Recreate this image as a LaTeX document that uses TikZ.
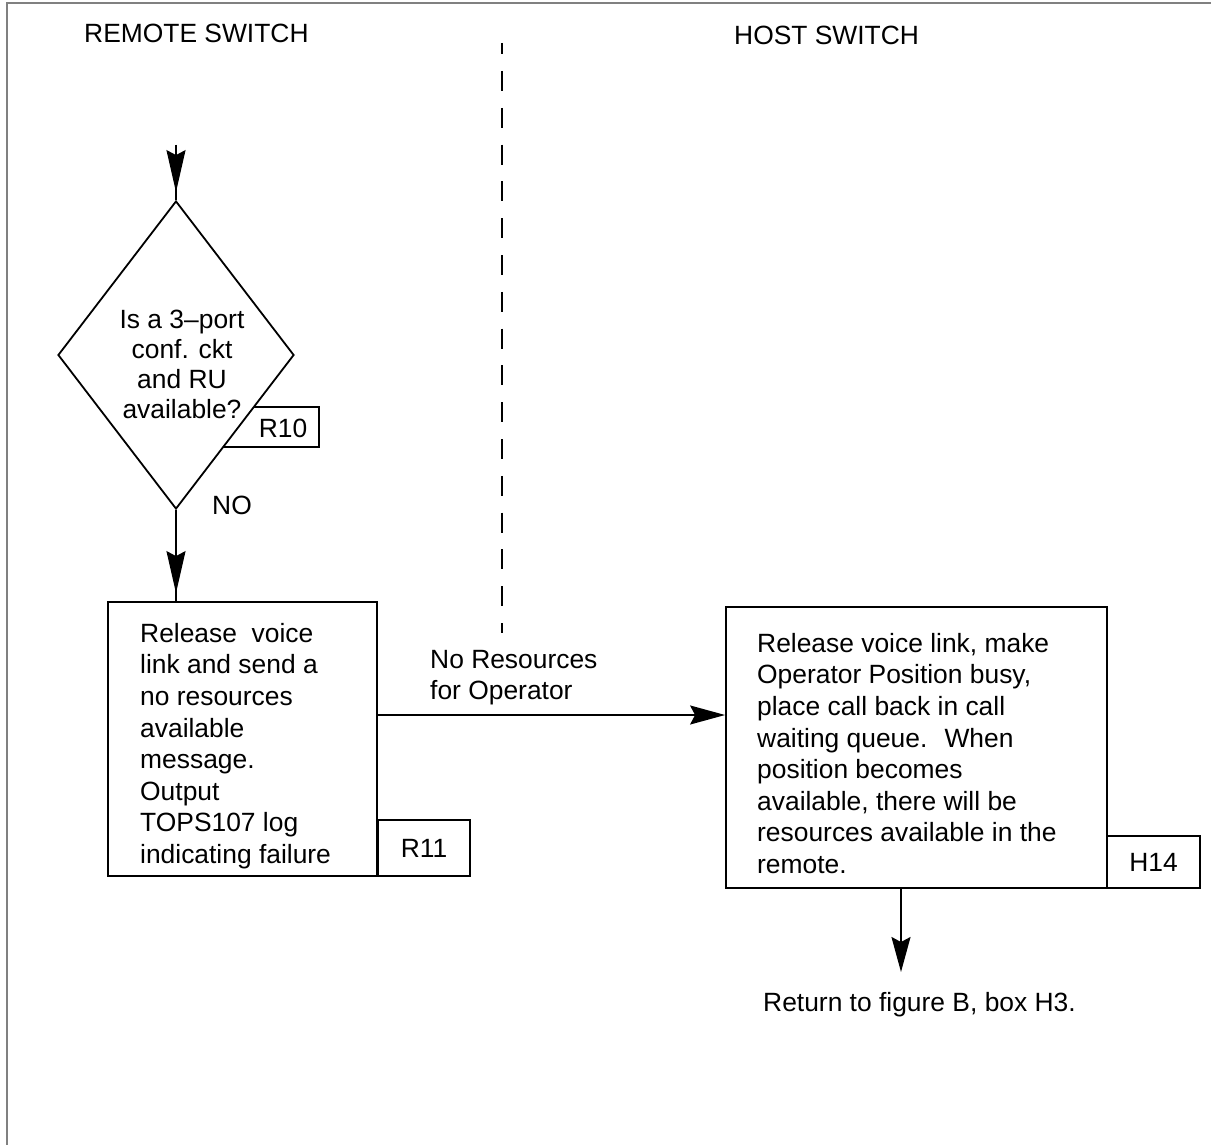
\documentclass[tikz,border=0pt]{standalone}
\usepackage{fontspec}
\setmainfont{Liberation Sans}
\usetikzlibrary{shapes.geometric,arrows.meta}
\begin{document}
\begin{tikzpicture}[x=1pt,y=-1pt,
  every node/.style={font=\fontsize{26.4}{31.6}\selectfont},
  box/.style={draw, line width=1.8pt, inner sep=0pt},
  txt/.style={inner sep=0pt, align=left},
  conn/.style={line width=1.8pt},
  tipL/.style={-{Stealth[length=42pt,width=19pt,inset=5pt]}},
  tipR/.style={-{Stealth[length=35pt,width=19pt,inset=5pt]}},
]
\useasboundingbox (0,0) rectangle (1211,1145);
% frame
\draw[gray, line width=1.5pt] (7,1145) -- (7,3) -- (1211,3);
% titles
\node[anchor=base west, inner sep=0pt] (remote) at (84,43) {REMOTE SWITCH};
\node[anchor=base west, inner sep=0pt] (host) at (734,45) {HOST SWITCH};
% divider
\coordinate (d1) at (502,43);
\coordinate (d2) at (502,633);
\draw[line width=2pt, dash pattern=on 20pt off 16.8pt, dash phase=8.8pt] (d1) -- (d2);
% decision
\node[box, rectangle, minimum width=99pt, minimum height=40pt] (R10) at (269.5,427) {};
\node[box, diamond, fill=white, minimum width=236pt, minimum height=308pt] (D) at (176,355) {};
\node[txt, align=center, anchor=north, font=\fontsize{26.4}{30}\selectfont] (Dt) at (182,309.5) {Is a 3–port\\conf. ckt\\and RU\\available?};
\node[anchor=base, inner sep=0pt] (R10t) at (283,437.5) {R10};
\node[anchor=base west, inner sep=0pt] (no) at (212,514.5) {NO};
% left box
\node[box, rectangle, minimum width=269pt, minimum height=274pt] (L) at (242.5,739) {};
\node[box, rectangle, minimum width=92pt, minimum height=56pt] (R11) at (424,848) {R11};
\node[txt, anchor=north west] (Lt) at (140,623) {Release~ voice\\link and send a\\no resources\\available\\message.\\Output\\TOPS107 log\\indicating failure};
% right box
\node[box, rectangle, minimum width=381pt, minimum height=281pt] (R) at (916.5,747.5) {};
\node[box, rectangle, minimum width=93pt, minimum height=52pt] (H14) at (1153.5,862) {H14};
\node[txt, anchor=north west] (Rt) at (757,633) {Release voice link, make\\Operator Position busy,\\place call back in call\\waiting queue.~ When\\position becomes\\available, there will be\\resources available in the\\remote.};
% connectors
\coordinate (top) at (176,145);
\draw[conn] (top) -- (D.north);
\draw[conn, tipL, shorten >=8pt] (top) -- (D.north);
\draw[conn] (D.south) -- (D.south |- L.north);
\draw[conn, tipL, shorten >=8pt] (D.south) -- (D.south |- L.north);
\coordinate (hy) at (0,715);
\draw[conn, tipR] (L.east |- hy) -- (R.west |- hy);
\node[txt, anchor=north west] (lab) at (430,650) {No Resources\\for Operator};
\coordinate (ret) at (901,972);
\draw[conn, tipR] (ret |- R.south) -- (ret);
\node[anchor=base west, inner sep=0pt] (rett) at (763,1011.5) {Return to figure B, box H3.};
\end{tikzpicture}
\end{document}
